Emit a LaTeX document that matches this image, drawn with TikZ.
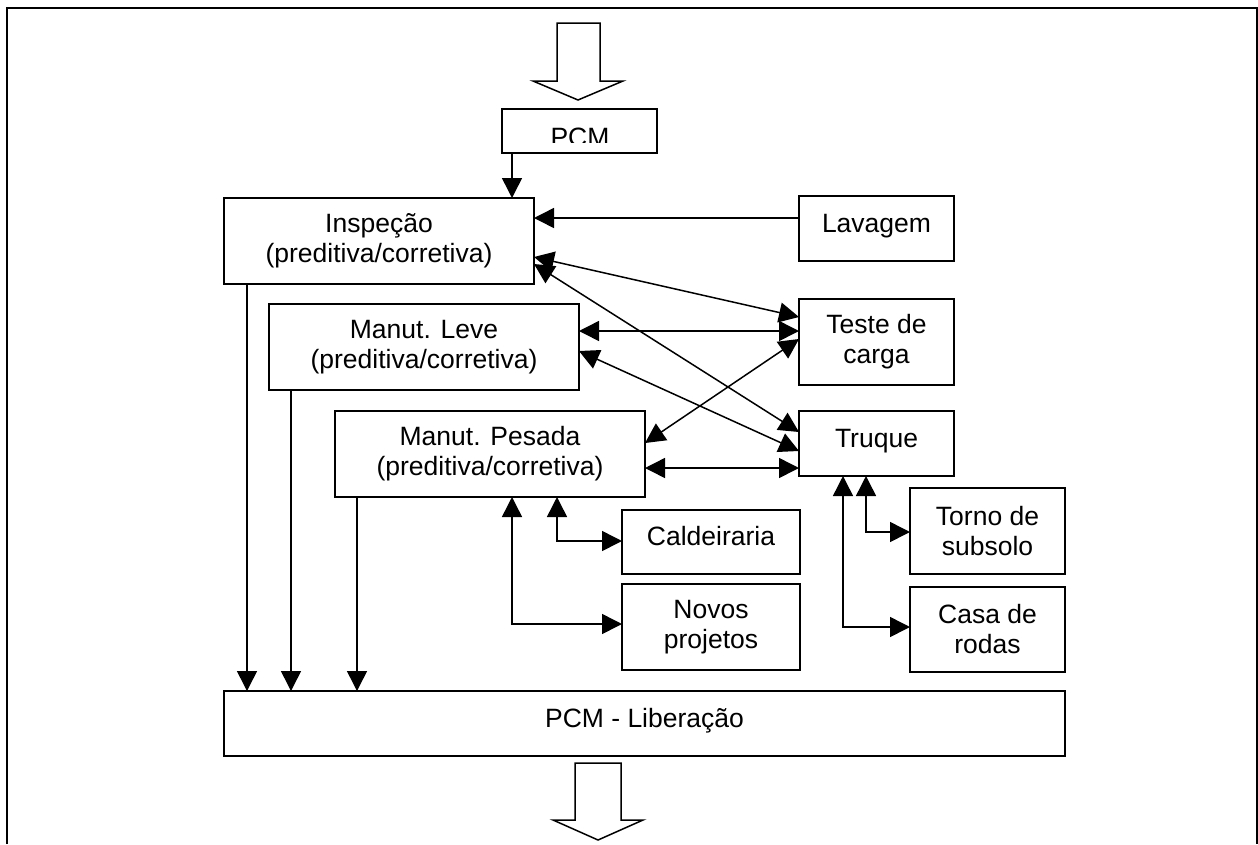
\documentclass[tikz,border=0pt]{standalone}
\usepackage{fontspec}
\setmainfont{Liberation Sans}
\usetikzlibrary{arrows.meta}

\begin{document}
\begin{tikzpicture}[x=1pt,y=-1pt,
caixa/.style={draw,line width=1.5pt,inner sep=0pt,outer sep=0pt,align=center,
font=\fontsize{26.5}{30}\selectfont},
linha/.style={text height=19pt,text depth=12pt},
seta/.style={line width=1.5pt,-{Triangle[length=20pt,width=20pt]}},
dupla/.style={line width=1.5pt,{Triangle[length=20pt,width=20pt]}-{Triangle[length=20pt,width=20pt]}},
oca/.style={draw,line width=1.5pt,fill=white,line join=miter}]

\useasboundingbox
(0,0)
rectangle
(1258,844);

% Moldura
\draw[line width=2pt]
(7,844)
--
(7,8)
--
(1257,8)
--
(1257,844);

% Seta de entrada
\draw[oca]
(557,23)
--
(600,23)
--
(600,81)
--
(623,81)
--
(578,100)
--
(533,81)
--
(557,81)
--
cycle;

\node[caixa,minimum width=155pt,minimum height=44pt]
(pcm) at (579.5,131) {};

\begin{scope}
\clip
(pcm.north west)
rectangle
([yshift=11pt]pcm.south east);
\node[font=\fontsize{26.5}{30}\selectfont,anchor=base,inner sep=0pt]
(pcmtxt) at (580,146) {PCM};
\end{scope}

\node[caixa,minimum width=310pt,minimum height=86pt]
(insp) at (379,241) {Inspeção\\(preditiva/corretiva)};

\node[caixa,minimum width=310pt,minimum height=86pt]
(leve) at (424,347) {Manut. Leve\\(preditiva/corretiva)};

\node[caixa,minimum width=310pt,minimum height=86pt]
(pesada) at (490,454) {Manut. Pesada\\(preditiva/corretiva)};

\node[caixa,linha,minimum width=155pt,minimum height=65pt]
(lav) at (876.5,228.5) {Lavagem};

\node[caixa,minimum width=155pt,minimum height=86pt]
(teste) at (876.5,342) {Teste de\\carga};

\node[caixa,linha,minimum width=155pt,minimum height=65pt]
(truque) at (876.5,443.5) {Truque};

\node[caixa,linha,minimum width=178pt,minimum height=64pt]
(cald) at (711,542) {Caldeiraria};

\node[caixa,minimum width=178pt,minimum height=86pt]
(novos) at (711,627) {Novos\\projetos};

\node[caixa,minimum width=155pt,minimum height=86pt]
(torno) at (987.5,531) {Torno de\\subsolo};

\node[caixa,minimum width=155pt,minimum height=85pt]
(casa) at (987.5,629.5) {Casa de\\rodas};

\node[caixa,linha,minimum width=841pt,minimum height=65pt]
(lib) at (644.5,723.5) {PCM - Liberação};

% Seta de saída
\draw[oca]
(575,763)
--
(621,763)
--
(621,820)
--
(643,820)
--
(598,840)
--
(553,820)
--
(575,820)
--
cycle;

\draw[seta]
(pcm.south -| 512,0)
--
(insp.north -| 512,0);

\draw[seta]
(lav.west |- 0,218)
--
(insp.east |- 0,218);

\draw[dupla]
(insp.east |- 0,257)
--
(teste.west |- 0,317);

\draw[dupla]
(insp.east |- 0,264)
--
(truque.west |- 0,432);

\draw[dupla]
(leve.east |- 0,331)
--
(teste.west |- 0,331);

\draw[dupla]
(leve.east |- 0,351)
--
(truque.west |- 0,451);

\draw[dupla]
(pesada.east |- 0,443)
--
(teste.west |- 0,339);

\draw[dupla]
(pesada.east |- 0,468)
--
(truque.west |- 0,468);

\draw[dupla]
(pesada.south -| 557,0)
|-
(cald.west |- 0,541);

\draw[dupla]
(pesada.south -| 512,0)
|-
(novos.west |- 0,624);

\draw[dupla]
(truque.south -| 866,0)
|-
(torno.west |- 0,532);

\draw[dupla]
(truque.south -| 843,0)
|-
(casa.west |- 0,627);

% Liberação
\draw[seta]
(insp.south -| 247,0)
--
(lib.north -| 247,0);

\draw[seta]
(leve.south -| 291,0)
--
(lib.north -| 291,0);

\draw[seta]
(pesada.south -| 357,0)
--
(lib.north -| 357,0);

\end{tikzpicture}
\end{document}
